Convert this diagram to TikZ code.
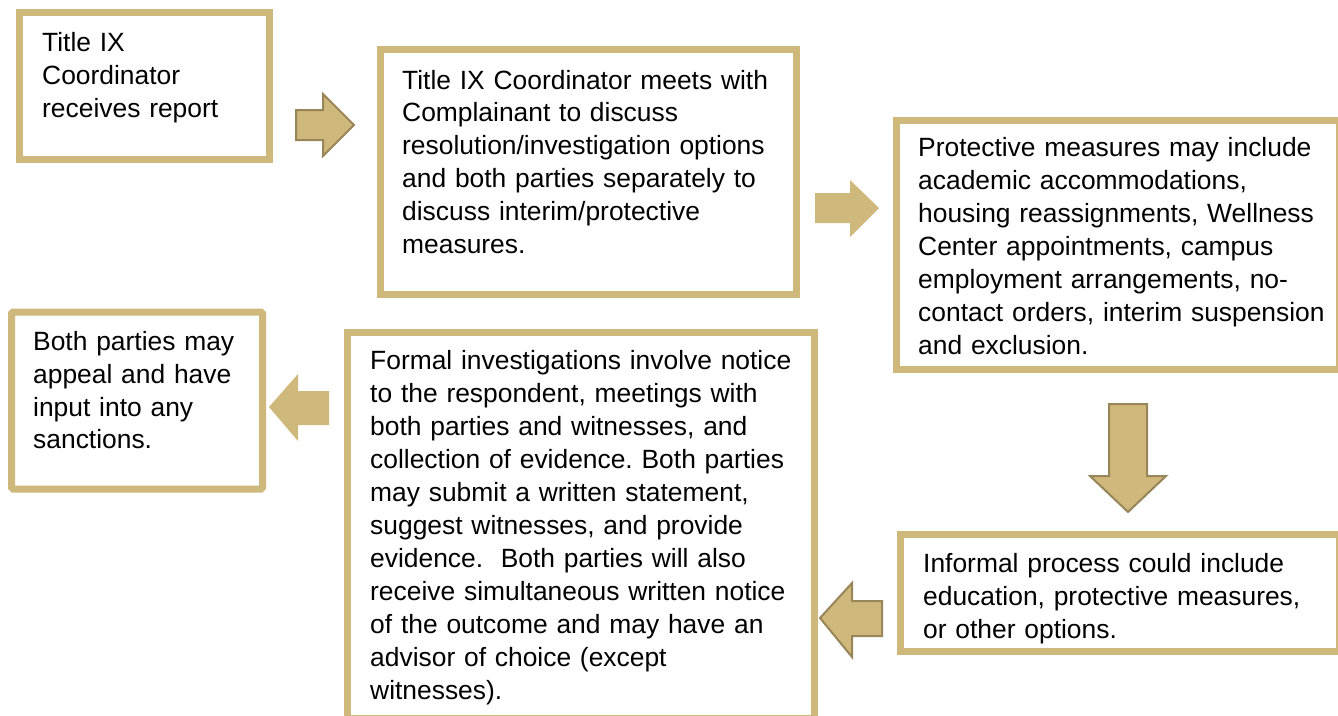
\documentclass[tikz,border=0pt]{standalone}
\usepackage{fontspec}
\setmainfont{Liberation Sans}
\definecolor{gold}{RGB}{207,184,124}
\definecolor{goldedge}{RGB}{152,133,88}
\frenchspacing
\begin{document}
\begin{tikzpicture}[x=1pt,y=-1pt,
  box/.style={draw=gold, line width=7pt, fill=white, inner sep=0pt, outer sep=0pt},
  txt/.style={anchor=base west, inner sep=0pt, align=left, text width=480pt,
    font=\fontsize{26.4}{32.8}\selectfont},
  barrow/.style={fill=gold, draw=goldedge, line width=2pt, line join=miter},
  barrowflat/.style={fill=gold}]
\useasboundingbox (0,0) rectangle (1338,715);
% boxes
\node[box, minimum width=250pt, minimum height=147.5pt] (b1) at (144,85.75) {};
\node[box, minimum width=416.5pt, minimum height=245pt] (b2) at (588.25,172) {};
\node[box, minimum width=443pt, minimum height=249pt] (b3) at (1117.5,244.5) {};
\node[box, minimum width=251pt, minimum height=177pt, rounded corners=1.5pt] (b4) at (137,400.5) {};
\node[box, minimum width=467pt, minimum height=386pt] (b5) at (580.5,525) {};
\node[box, minimum width=439pt, minimum height=116.5pt] (b6) at (1119.5,592.75) {};
% texts
\node[txt] (t1) at (42,51.7) {Title IX\\Coordinator\\receives report};
\node[txt] (t2) at (402,89) {Title IX Coordinator meets with\\Complainant to discuss\\resolution/investigation options\\and both parties separately to\\discuss interim/protective\\measures.};
\node[txt, font=\fontsize{26.4}{33}\selectfont] (t3) at (918,156) {Protective measures may include\\academic accommodations,\\housing reassignments, Wellness\\Center appointments, campus\\employment arrangements, no-\\contact orders, interim suspension\\and exclusion.};
\node[txt] (t4) at (33,350.5) {Both parties may\\appeal and have\\input into any\\sanctions.};
\node[txt, font=\fontsize{26.4}{33}\selectfont] (t5) at (370,369) {Formal investigations involve notice\\to the respondent, meetings with\\both parties and witnesses, and\\collection of evidence. Both parties\\may submit a written statement,\\suggest witnesses, and provide\\evidence.\ \ Both parties will also\\receive simultaneous written notice\\of the outcome and may have an\\advisor of choice (except\\witnesses).};
\node[txt] (t6) at (923,572.5) {Informal process could include\\education, protective measures,\\or other options.};
% block arrows
\filldraw[barrow] (296,110) -- (323,110) -- (323,94) -- (354,125) -- (323,156) -- (323,140) -- (296,140) -- cycle;
\fill[barrowflat] (815,193) -- (850,193) -- (850,180) -- (879,208) -- (850,237) -- (850,223) -- (815,223) -- cycle;
\filldraw[barrow] (1109,404) -- (1147,404) -- (1147,476) -- (1166,476) -- (1128,512) -- (1090,476) -- (1109,476) -- cycle;
\filldraw[barrow] (882,601) -- (852,601) -- (852,583) -- (820,618) -- (852,657) -- (852,636) -- (882,636) -- cycle;
\fill[barrowflat] (329,391) -- (298,391) -- (298,374) -- (269,407) -- (298,441) -- (298,425) -- (329,425) -- cycle;
\end{tikzpicture}
\end{document}
